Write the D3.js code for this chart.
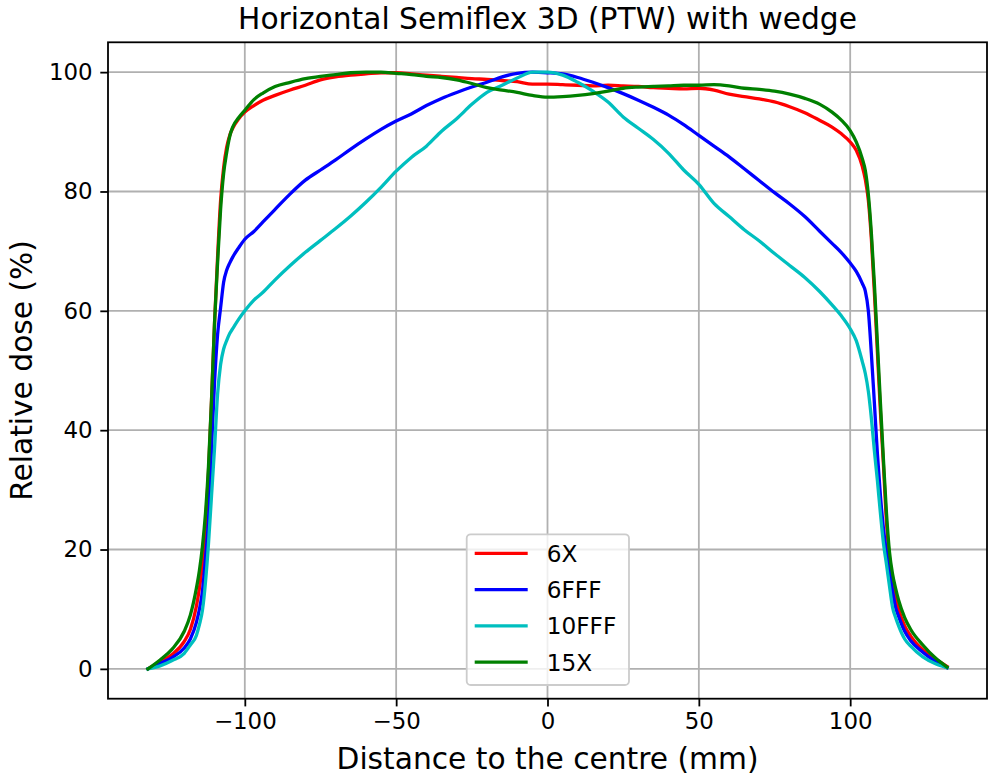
<!DOCTYPE html>
<html>
<head>
<meta charset="utf-8">
<script src="https://cdn.jsdelivr.net/npm/d3@7"></script>
<style>
  body { margin: 0; background: #fff; }
  text { font-family: "DejaVu Sans", sans-serif; }
</style>
</head>
<body>
<div id="chart"></div>
<script>
// distance to the centre (mm), shared by all four profiles
var positions = [-132, -128, -124, -120, -118, -116, -115, -114, -113, -112, -111, -110, -109, -108, -107, -106, -105, -104, -102, -100,
  -97, -94, -90, -85, -80, -75, -70, -65, -60, -55, -50, -45, -40, -35, -30, -25, -20, -15, -10, -5, 0,
  5, 10, 15, 20, 25, 30, 35, 40, 45, 50, 55, 60, 65, 70, 75, 80, 85, 90, 94, 97, 100, 102, 104,
  105, 106, 107, 108, 109, 110, 111, 112, 113, 114, 115, 116, 118, 120, 124, 128, 132];

var dose6X = [0, 1.2, 2.4, 4.6, 6.6, 10.5, 13.5, 17.5, 24, 33, 45, 58, 69, 78.5, 84, 87.4, 89.4, 90.6, 92.2, 93.3,
  94.4, 95.3, 96.1, 97.0, 97.8, 98.7, 99.2, 99.5, 99.7, 99.9, 99.9, 99.7, 99.5, 99.3, 99.1, 98.9, 98.8, 98.6, 98.4, 98.0, 98.0,
  97.9, 97.8, 97.7, 97.8, 97.7, 97.6, 97.4, 97.3, 97.2, 97.3, 97.0, 96.3, 95.9, 95.5, 95.0, 94.2, 93.2, 91.9, 90.8, 89.7, 88.3, 86.9, 84.2,
  82.0, 78.5, 72, 63, 53, 43, 34, 24.5, 18.5, 14.8, 12, 10, 7.2, 5.5, 3.2, 1.7, 0.4];

var dose6FFF = [0, 0.9, 1.9, 3.5, 5.0, 7.8, 10.0, 13, 18.5, 25, 37, 48, 56, 60.5, 64.8, 66.8, 68, 69, 70.6, 72,
  73.3, 74.9, 77.0, 79.6, 81.9, 83.6, 85.3, 87.1, 88.8, 90.4, 91.8, 93.0, 94.4, 95.6, 96.6, 97.5, 98.3, 99.2, 99.8, 100, 99.9,
  99.7, 99.1, 98.3, 97.4, 96.4, 95.3, 94.1, 92.8, 91.2, 89.4, 87.6, 85.8, 83.8, 81.8, 79.8, 77.9, 75.8, 73.3, 71.3, 69.8, 68.0, 66.6, 64.6,
  63.3, 60, 52.8, 44.5, 36, 29, 23.5, 19.5, 16.3, 13, 10.3, 8.8, 6.3, 4.7, 2.8, 1.3, 0.2];

var dose10FFF = [0, 0.5, 1.4, 2.6, 4.0, 5.6, 7.4, 9.8, 14.5, 21, 29, 37, 46, 51, 53.6, 55, 56.2, 57, 58.6, 60,
  61.8, 63.1, 65.2, 67.6, 69.8, 71.8, 73.8, 75.9, 78.2, 80.7, 83.4, 85.7, 87.6, 90.1, 92.2, 94.6, 96.6, 97.8, 99.0, 100, 100,
  99.5, 98.3, 96.8, 95.0, 92.5, 90.6, 88.7, 86.4, 83.6, 81.2, 78.0, 75.8, 73.6, 71.7, 69.6, 67.6, 65.6, 63.2, 61.0, 59.2, 57.0, 55, 51.5,
  49.5, 46.5, 42, 36.5, 31.5, 26, 21, 17.5, 13.8, 10.3, 8.6, 7.2, 5.0, 3.8, 2.0, 0.9, 0.2];

var dose15X = [0, 1.5, 3.3, 6.3, 9.0, 13.5, 16.5, 20.5, 26, 34, 45, 58, 68, 77, 83, 86.5, 89.2, 90.8, 92.4, 93.6,
  95.4, 96.5, 97.6, 98.3, 98.9, 99.3, 99.6, 99.9, 100, 100, 99.8, 99.6, 99.3, 99.1, 98.7, 98.1, 97.4, 97.0, 96.6, 96.1, 95.8,
  95.9, 96.1, 96.4, 96.8, 97.3, 97.5, 97.6, 97.7, 97.8, 97.8, 97.9, 97.7, 97.3, 97.1, 96.8, 96.3, 95.6, 94.6, 93.3, 92.0, 90.2, 88.3, 85.5,
  83.5, 79.5, 73, 64.5, 54.5, 44.5, 35, 26, 19.5, 15.9, 13.5, 11.5, 8.6, 6.6, 4.0, 1.9, 0.3];

var seriesNames = ["6X", "6FFF", "10FFF", "15X"];
var seriesColors = ["#ff0000", "#0000ff", "#00bfbf", "#008000"];
var xTicks = [-100, -50, 0, 50, 100];
var yTicks = [0, 20, 40, 60, 80, 100];

var svgWidth = 988;
var svgHeight = 778;

var margin = {
  top: 42.3,
  right: 1,
  bottom: 79.3,
  left: 108
};

var plotWidth = svgWidth - margin.left - margin.right;
var plotHeight = svgHeight - margin.top - margin.bottom;

var svg = d3.select("#chart")
  .append("svg")
  .attr("width", svgWidth)
  .attr("height", svgHeight);

var plot = svg.append("g")
  .attr("transform", `translate(${margin.left}, ${margin.top})`);

var xScale = d3.scaleLinear()
  .domain([-145.2, 145.2])
  .range([0, plotWidth]);

var yScale = d3.scaleLinear()
  .domain([-5, 105])
  .range([plotHeight, 0]);

// grid
plot.append("g")
  .selectAll("line")
  .data(xTicks)
  .enter()
  .append("line")
  .attr("x1", d => xScale(d))
  .attr("x2", d => xScale(d))
  .attr("y1", 0)
  .attr("y2", plotHeight)
  .attr("stroke", "#b0b0b0")
  .attr("stroke-width", 1.8);

plot.append("g")
  .selectAll("line")
  .data(yTicks)
  .enter()
  .append("line")
  .attr("x1", 0)
  .attr("x2", plotWidth)
  .attr("y1", d => yScale(d))
  .attr("y2", d => yScale(d))
  .attr("stroke", "#b0b0b0")
  .attr("stroke-width", 1.8);

// profiles
var allSeries = [dose6X, dose6FFF, dose10FFF, dose15X];

var line = d3.line()
  .x((d, i) => xScale(positions[i]))
  .y(d => yScale(d))
  .curve(d3.curveMonotoneX);

plot.append("g")
  .selectAll("path")
  .data(allSeries)
  .enter()
  .append("path")
  .attr("d", d => line(d))
  .attr("fill", "none")
  .attr("stroke", (d, i) => seriesColors[i])
  .attr("stroke-width", 3.3)
  .attr("stroke-linejoin", "round")
  .attr("stroke-linecap", "square");

// axes
var xAxis = d3.axisBottom(xScale).tickValues(xTicks).tickSize(7.7).tickPadding(6.5);
var yAxis = d3.axisLeft(yScale).tickValues(yTicks).tickSize(7.7).tickPadding(7.7);

var gx = plot.append("g")
  .attr("transform", `translate(0, ${plotHeight})`)
  .call(xAxis);
var gy = plot.append("g").call(yAxis);

[gx, gy].forEach(function(g) {
  g.select(".domain").remove();
  g.selectAll(".tick line").attr("stroke", "#000").attr("stroke-width", 1.8);
  g.selectAll(".tick text")
    .attr("fill", "#000")
    .attr("font-size", "22.9px")
    .style("font-family", "'DejaVu Sans', sans-serif");
});

plot.append("rect")
  .attr("width", plotWidth)
  .attr("height", plotHeight)
  .attr("fill", "none")
  .attr("stroke", "#000")
  .attr("stroke-width", 1.8);

// legend
var legend = plot.append("g")
  .attr("transform", `translate(${466.7 - margin.left}, ${534.3 - margin.top})`);

legend.append("rect")
  .attr("width", 162.3)
  .attr("height", 150.7)
  .attr("rx", 4)
  .attr("fill", "#fff")
  .attr("fill-opacity", 0.8)
  .attr("stroke", "#cccccc")
  .attr("stroke-width", 1.8);

var rows = legend.selectAll(".row")
  .data(seriesNames)
  .enter()
  .append("g")
  .attr("class", "row")
  .attr("transform", (d, i) => `translate(0, ${19 + i * 36.3})`);

rows.append("line")
  .attr("x1", 8)
  .attr("x2", 61)
  .attr("stroke", (d, i) => seriesColors[i])
  .attr("stroke-width", 3.3);

rows.append("text")
  .attr("x", 80)
  .attr("y", 8.3)
  .attr("font-size", "23.2px")
  .attr("fill", "#000")
  .text(d => d);

// labels
svg.append("text")
  .attr("x", margin.left + plotWidth / 2)
  .attr("y", 29)
  .attr("text-anchor", "middle")
  .attr("font-size", "29.7px")
  .attr("fill", "#000")
  .text("Horizontal Semiflex 3D (PTW) with wedge");

svg.append("text")
  .attr("x", margin.left + plotWidth / 2)
  .attr("y", 769)
  .attr("text-anchor", "middle")
  .attr("font-size", "29.7px")
  .attr("fill", "#000")
  .text("Distance to the centre (mm)");

svg.append("text")
  .attr("transform", `translate(32, ${margin.top + plotHeight / 2}) rotate(-90)`)
  .attr("text-anchor", "middle")
  .attr("font-size", "29.7px")
  .attr("fill", "#000")
  .text("Relative dose (%)");
</script>
</body>
</html>
